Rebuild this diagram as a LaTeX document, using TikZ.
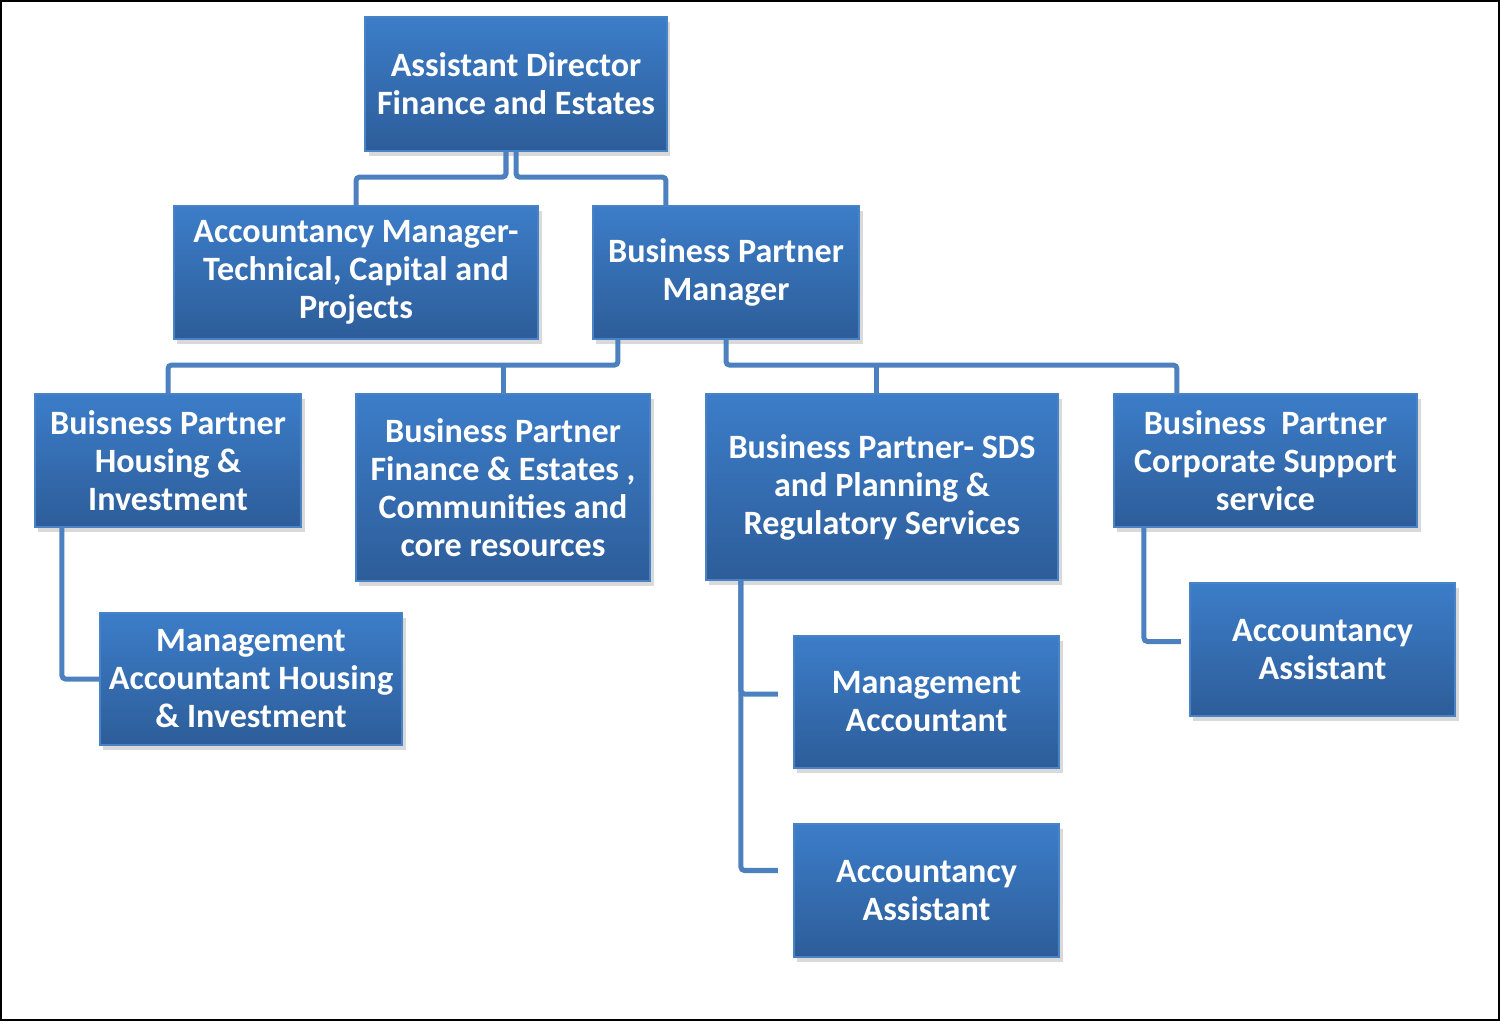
\documentclass[tikz,border=0pt]{standalone}
\usepackage{fontspec}
\setmainfont{Carlito}
\usetikzlibrary{shadows,calc}
\definecolor{boxtop}{HTML}{3C7DC9}
\definecolor{boxbottom}{HTML}{2D5D99}
\definecolor{boxedge}{HTML}{4A82C6}
\definecolor{linkblue}{HTML}{4D80BE}
\begin{document}
\begin{tikzpicture}[
    x=0.01cm, y=-0.01cm,
    role/.style={rectangle, draw=boxedge, line width=0.6pt, top color=boxtop, bottom color=boxbottom, text=white, align=center, inner sep=0pt, font=\bfseries\fontsize{9.7}{10.8}\selectfont, drop shadow={shadow xshift=1pt, shadow yshift=-1.5pt, opacity=0.3}},
    link/.style={draw=linkblue, line width=0.05cm, rounded corners=1pt}
]
    \useasboundingbox (0,0) rectangle (1500,1021);
    % outer frame
    \draw[line width=0.02cm] (1,1) rectangle (1499,1020);

    % Top of the chart
    \node[role, minimum width=3.01cm, minimum height=1.34cm] (dir) at (516,84) {Assistant Director\\Finance and Estates};

    % Managers
    \node[role, minimum width=3.64cm, minimum height=1.33cm] (acm) at (356,272.5) {Accountancy Manager-\\Technical, Capital and\\Projects};
    \node[role, minimum width=2.66cm, minimum height=1.33cm] (bpm) at (726,272.5) {Business Partner\\Manager};

    % Business partners
    \node[role, minimum width=2.66cm, minimum height=1.33cm] (bph) at (168,460.5) {Buisness Partner\\Housing \&\\Investment};
    \node[role, minimum width=2.94cm, minimum height=1.87cm] (bpf) at (503,487.5) {Business Partner\\Finance \& Estates ,\\Communities and\\core resources};
    \node[role, minimum width=3.52cm, minimum height=1.86cm] (bps) at (882,487) {Business Partner- SDS\\and Planning \&\\Regulatory Services};
    \node[role, minimum width=3.03cm, minimum height=1.33cm] (bpc) at (1265.5,460.5) {Business~ Partner\\Corporate Support\\service};

    % Accountants and assistants
    \node[role, minimum width=3.02cm, minimum height=1.32cm] (mah) at (251,679) {Management\\Accountant Housing\\\& Investment};
    \node[role, minimum width=2.65cm, minimum height=1.32cm] (ma) at (926.5,702) {Management\\Accountant};
    \node[role, minimum width=2.65cm, minimum height=1.33cm] (aa1) at (926.5,890.5) {Accountancy\\Assistant};
    \node[role, minimum width=2.65cm, minimum height=1.33cm] (aa2) at (1322.5,649.5) {Accountancy\\Assistant};

    % director to managers
    \draw[link] ([xshift=-0.1cm]dir.south) -- ++(0,25) -| (acm.north);
    \draw[link] (dir.south) -- ++(0,25) -| ([xshift=-0.6cm]bpm.north);

    % manager to business partners
    \draw[link] ([xshift=-1.08cm]bpm.south) -- ++(0,25) -| (bph.north);
    \draw[link] (bpf.north) -- ++(0,-30);
    \draw[link] (bpm.south) -- ++(0,25) -| ([xshift=-0.885cm]bpc.north);
    \draw[link] ([xshift=-0.06cm]bps.north) -- ++(0,-30);

    % business partners to their teams
    \draw[link] ([xshift=-1.06cm]bph.south) |- (mah.west);
    \draw[link] ([xshift=-1.41cm]bps.south) |- ([xshift=-0.15cm, yshift=0.08cm]ma.west);
    \draw[link] ([xshift=-1.41cm]bps.south) |- ([xshift=-0.15cm, yshift=0.2cm]aa1.west);
    \draw[link] ([xshift=-1.215cm]bpc.south) |- ([xshift=-0.08cm, yshift=0.08cm]aa2.west);
\end{tikzpicture}
\end{document}
